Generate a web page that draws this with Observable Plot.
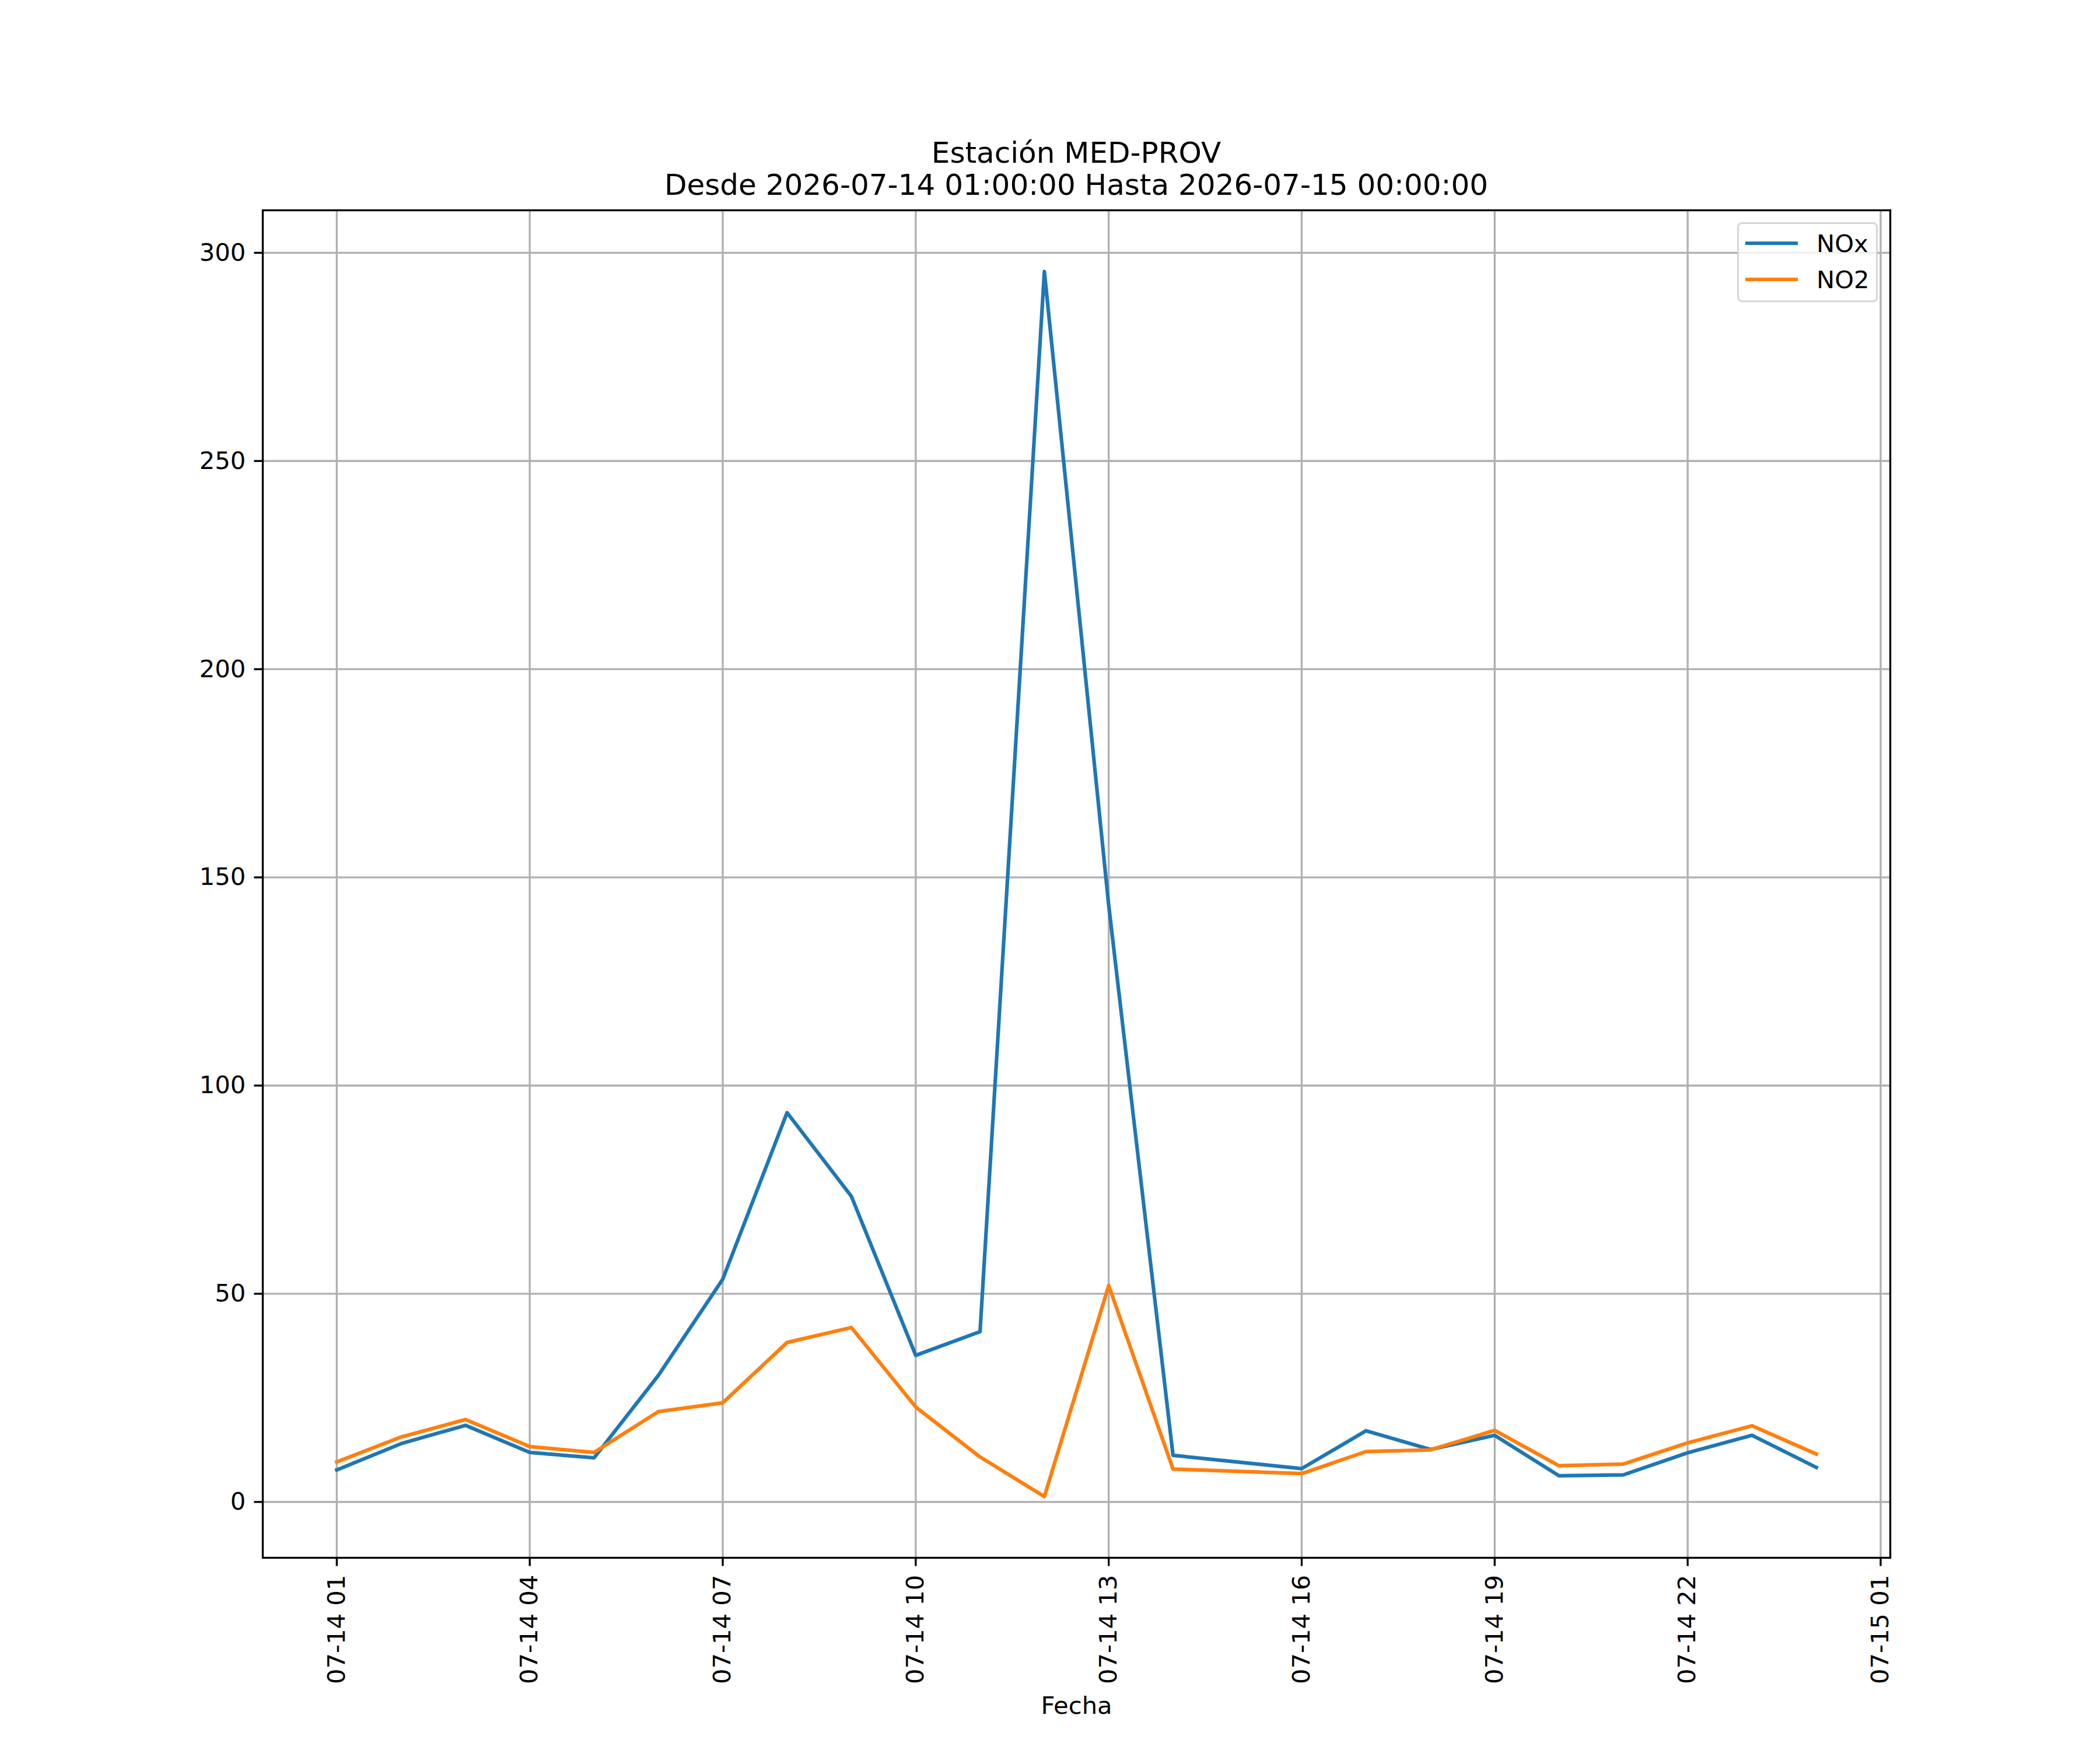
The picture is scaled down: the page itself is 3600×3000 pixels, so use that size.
<!DOCTYPE html>
<html>
<head>
<meta charset="utf-8">
<script src="https://cdn.jsdelivr.net/npm/d3@7"></script>
<script src="https://cdn.jsdelivr.net/npm/@observablehq/plot@0.6"></script>
<style>
  html, body { margin: 0; padding: 0; background: #fff; }
  #fig { position: relative; width: 3600px; height: 3000px; background: #fff; font-family: "DejaVu Sans", sans-serif; color: #000; }
  #title { position: relative; width: 3690px; height: 340px; text-align: center; font-size: 50px; line-height: 55px; }
  #title .inner { position: absolute; left: 0; right: 0; top: 235px; }
  #legend { position: absolute; left: 2978px; top: 381px; width: 235px; height: 131px;
            border: 3.33px solid rgba(204,204,204,0.8); border-radius: 8px; background: rgba(255,255,255,0.8); z-index: 2; }
  #legend .item { position: absolute; left: 0; height: 0; width: 100%; }
  #legend .sw { position: absolute; left: 11px; width: 90px; height: 6.25px; top: -3.1px; }
  #legend .lab { position: absolute; left: 133px; font-size: 41.67px; line-height: 41.67px; top: -20px; white-space: nowrap; }
  svg { display: block; }
</style>
</head>
<body>
<div id="fig">
  <div id="title"><div class="inner">Estación MED-PROV<br>Desde 2026-07-14 01:00:00 Hasta 2026-07-15 00:00:00</div></div>
  <div id="chart"></div>
  <div id="legend"></div>
</div>
<script>
// ---- data ----
const times = [
  "2026-07-14T01:00:00Z","2026-07-14T02:00:00Z","2026-07-14T03:00:00Z","2026-07-14T04:00:00Z",
  "2026-07-14T05:00:00Z","2026-07-14T06:00:00Z","2026-07-14T07:00:00Z","2026-07-14T08:00:00Z",
  "2026-07-14T09:00:00Z","2026-07-14T10:00:00Z","2026-07-14T11:00:00Z","2026-07-14T12:00:00Z",
  "2026-07-14T13:00:00Z","2026-07-14T14:00:00Z","2026-07-14T16:00:00Z","2026-07-14T17:00:00Z",
  "2026-07-14T18:00:00Z","2026-07-14T19:00:00Z","2026-07-14T20:00:00Z","2026-07-14T21:00:00Z",
  "2026-07-14T22:00:00Z","2026-07-14T23:00:00Z","2026-07-15T00:00:00Z"
];
const noxValues = [7.7, 14.0, 18.4, 11.9, 10.6, 30.4, 53.5, 93.5, 73.4, 35.2, 40.9, 295.5, 143.3, 11.2,
                   8.0, 17.1, 12.6, 16.0, 6.3, 6.5, 11.8, 16.0, 8.3];
const no2Values = [9.6, 15.6, 19.8, 13.3, 11.9, 21.7, 23.8, 38.3, 41.9, 22.8, 10.8, 1.3, 52.0, 7.9,
                   6.8, 12.1, 12.5, 17.2, 8.7, 9.1, 14.2, 18.3, 11.5];
const seriesNames = ["NOx", "NO2"];
const seriesColors = ["#1f77b4", "#ff7f0e"];
const xTickTimes = [
  "2026-07-14T01:00:00Z","2026-07-14T04:00:00Z","2026-07-14T07:00:00Z","2026-07-14T10:00:00Z",
  "2026-07-14T13:00:00Z","2026-07-14T16:00:00Z","2026-07-14T19:00:00Z","2026-07-14T22:00:00Z",
  "2026-07-15T01:00:00Z"
];
const xTickLabels = ["07-14 01","07-14 04","07-14 07","07-14 10","07-14 13","07-14 16","07-14 19","07-14 22","07-15 01"];
const yTicks = [0, 50, 100, 150, 200, 250, 300];
const xLabel = "Fecha";

// ---- build ----
const dates = times.map(t => new Date(t));
const tickDates = xTickTimes.map(t => new Date(t));
const rows = [];
dates.forEach((d, i) => rows.push({date: d, value: noxValues[i], series: "NOx"}));
dates.forEach((d, i) => rows.push({date: d, value: no2Values[i], series: "NO2"}));

const allVals = noxValues.concat(no2Values);
const yMin = d3.min(allVals), yMax = d3.max(allVals);
const yPad = (yMax - yMin) * 0.05;
const tMin = +d3.min(dates), tMax = +d3.max(dates);
const tPad = (tMax - tMin) * 0.05;

const PT = 300 / 72;
const fs = 10 * PT;
const gridW = 0.8 * PT;
const tickLen = 3.5 * PT;
const pad = 3.5 * PT;

const chart = Plot.plot({
  width: 3600,
  height: 2660,
  marginTop: 20,
  marginBottom: 330,
  marginLeft: 450,
  marginRight: 360,
  style: {fontFamily: "DejaVu Sans", fontSize: fs + "px", color: "#000", background: "#fff", overflow: "visible"},
  x: {type: "utc", domain: [new Date(tMin - tPad), new Date(tMax + tPad)]},
  y: {domain: [yMin - yPad, yMax + yPad]},
  color: {domain: seriesNames, range: seriesColors},
  marks: [
    Plot.gridX(tickDates, {stroke: "#b0b0b0", strokeOpacity: 1, strokeWidth: gridW}),
    Plot.gridY(yTicks, {stroke: "#b0b0b0", strokeOpacity: 1, strokeWidth: gridW}),
    Plot.line(rows, {x: "date", y: "value", z: "series", stroke: "series", strokeWidth: 1.5 * PT, strokeLinejoin: "round", strokeLinecap: "square"}),
    Plot.frame({stroke: "#000", strokeWidth: gridW}),
    Plot.axisY(yTicks, {tickSize: tickLen, tickPadding: pad, strokeWidth: gridW, fontSize: fs, label: null, tickFormat: d => String(d)}),
    Plot.axisX(tickDates, {tickSize: tickLen, strokeWidth: gridW, tickFormat: () => "", label: null}),
    Plot.text(tickDates, {x: d => d, text: (d, i) => xTickLabels[i], frameAnchor: "bottom", rotate: -90,
      textAnchor: "end", lineAnchor: "middle", dy: tickLen + pad, fontSize: fs, fill: "#000"}),
    Plot.text([xLabel], {text: d => d, frameAnchor: "bottom", dy: 253.7, fontSize: fs, fill: "#000", lineAnchor: "middle"})
  ]
});
document.getElementById("chart").appendChild(chart);

// legend
const legend = document.getElementById("legend");
const legendTops = [33, 95];
seriesNames.forEach((name, i) => {
  const item = document.createElement("div");
  item.className = "item";
  item.style.top = legendTops[i] + "px";
  const sw = document.createElement("div");
  sw.className = "sw";
  sw.style.background = seriesColors[i];
  const lab = document.createElement("div");
  lab.className = "lab";
  lab.textContent = name;
  item.appendChild(sw);
  item.appendChild(lab);
  legend.appendChild(item);
});
</script>
</body>
</html>
